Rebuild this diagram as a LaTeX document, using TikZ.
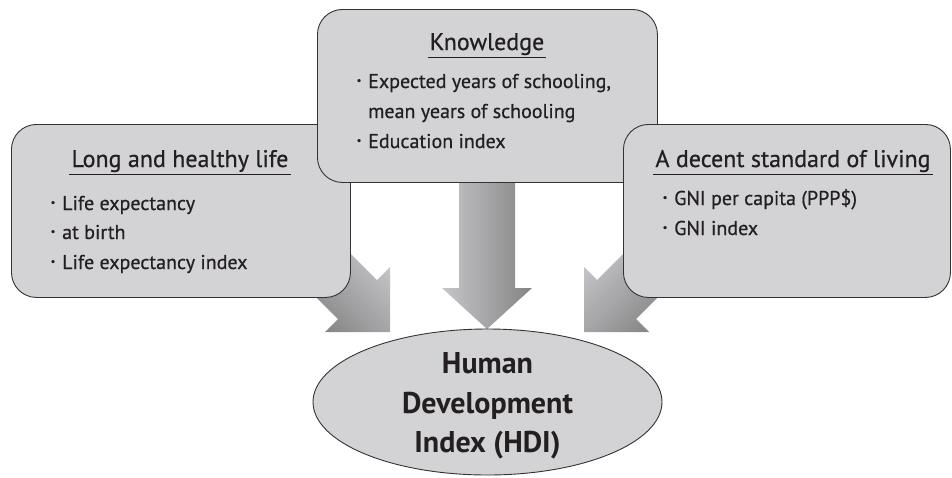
\documentclass[tikz,border=0pt]{standalone}
\usepackage{fontspec}
\setmainfont{PT Sans}
\newfontfamily\medfont{PT Sans}[FakeBold=0.6]
\usetikzlibrary{shapes.geometric}
\definecolor{boxfill}{HTML}{D3D3D5}
\definecolor{edgecol}{HTML}{333333}
\definecolor{txt}{HTML}{231F20}
\definecolor{arrlight}{HTML}{C6C6CA}
\definecolor{arrdark}{HTML}{848484}
\newcommand{\bul}{\llap{\makebox[12.5pt][l]{\scalebox{1.25}{·}}}}
\tikzset{
  panel/.style={draw=edgecol, line width=0.9pt, fill=boxfill, rounded corners=25pt, anchor=north west, inner sep=0pt},
  ttl/.style={font=\medfont\fontsize{24}{24}\selectfont, text=txt, anchor=base, inner sep=0pt},
  item/.style={font=\medfont\fontsize{20}{20}\selectfont, text=txt, anchor=base west, inner sep=0pt},
  uline/.style={draw=txt, line width=0.9pt},
  hdi/.style={font=\bfseries\fontsize{30}{30}\selectfont, text=txt, anchor=base, inner sep=0pt},
  blockarrow/.style={draw=none},
}
\begin{document}
\begin{tikzpicture}[x=1pt,y=-1pt]
\useasboundingbox (0,0) rectangle (952,477);
% block arrows (behind the boxes)
\path[blockarrow, left color=arrlight, right color=arrdark]
  (459,175) -- (515,175) -- (515,288) -- (532,288) -- (487,329) -- (442,288) -- (459,288) -- cycle;
\path[blockarrow, top color=arrlight, bottom color=arrdark, shading angle=-45]
  (390,332) -- (390,267) -- (377,280) -- (335,238) -- (296,277) -- (338,319) -- (325,332) -- cycle;
\path[blockarrow, top color=arrlight, bottom color=arrdark, shading angle=45]
  (584,332) -- (584,267) -- (597,280) -- (639,238) -- (678,277) -- (636,319) -- (649,332) -- cycle;
% boxes
\node[panel, minimum width=339pt, minimum height=173pt] (life) at (11,124) {};
\node[panel, minimum width=340pt, minimum height=173pt] (know) at (317,9) {};
\node[panel, minimum width=327pt, minimum height=173pt] (living) at (623,124) {};
% left box text
\node[ttl] (lt) at (180,167) {Long and healthy life};
\draw[uline] ([xshift=-2pt,yshift=-7pt]lt.base west) -- ([xshift=2pt,yshift=-7pt]lt.base east);
\node[item] (l1) at (62,210) {\bul Life expectancy};
\node[item] (l2) at (62,239) {\bul at birth};
\node[item] (l3) at (62,269) {\bul Life expectancy index};
% middle box text
\node[ttl] (kt) at (487,50) {Knowledge};
\draw[uline] ([xshift=-2pt,yshift=-7pt]kt.base west) -- ([xshift=2pt,yshift=-7pt]kt.base east);
\node[item] (k1) at (368,88) {\bul Expected years of schooling,};
\node[item] (k2) at (368,118) {mean years of schooling};
\node[item] (k3) at (368,148) {\bul Education index};
% right box text
\node[ttl] (rt) at (793,167) {A decent standard of living};
\draw[uline] ([xshift=-2pt,yshift=-7pt]rt.base west) -- ([xshift=2pt,yshift=-7pt]rt.base east);
\node[item] (r1) at (674,205) {\bul GNI per capita (PPP\$)};
\node[item] (r2) at (674,235) {\bul GNI index};
% ellipse
\node[draw=edgecol, line width=0.9pt, fill=boxfill, ellipse, minimum width=349pt, minimum height=146pt, inner sep=0pt] (hdiell) at (487.5,402) {};
\node[hdi] (h1) at (487.5,373) {Human};
\node[hdi] (h2) at (487.5,413) {Development};
\node[hdi] (h3) at (487.5,452) {Index (HDI)};
\end{tikzpicture}
\end{document}
